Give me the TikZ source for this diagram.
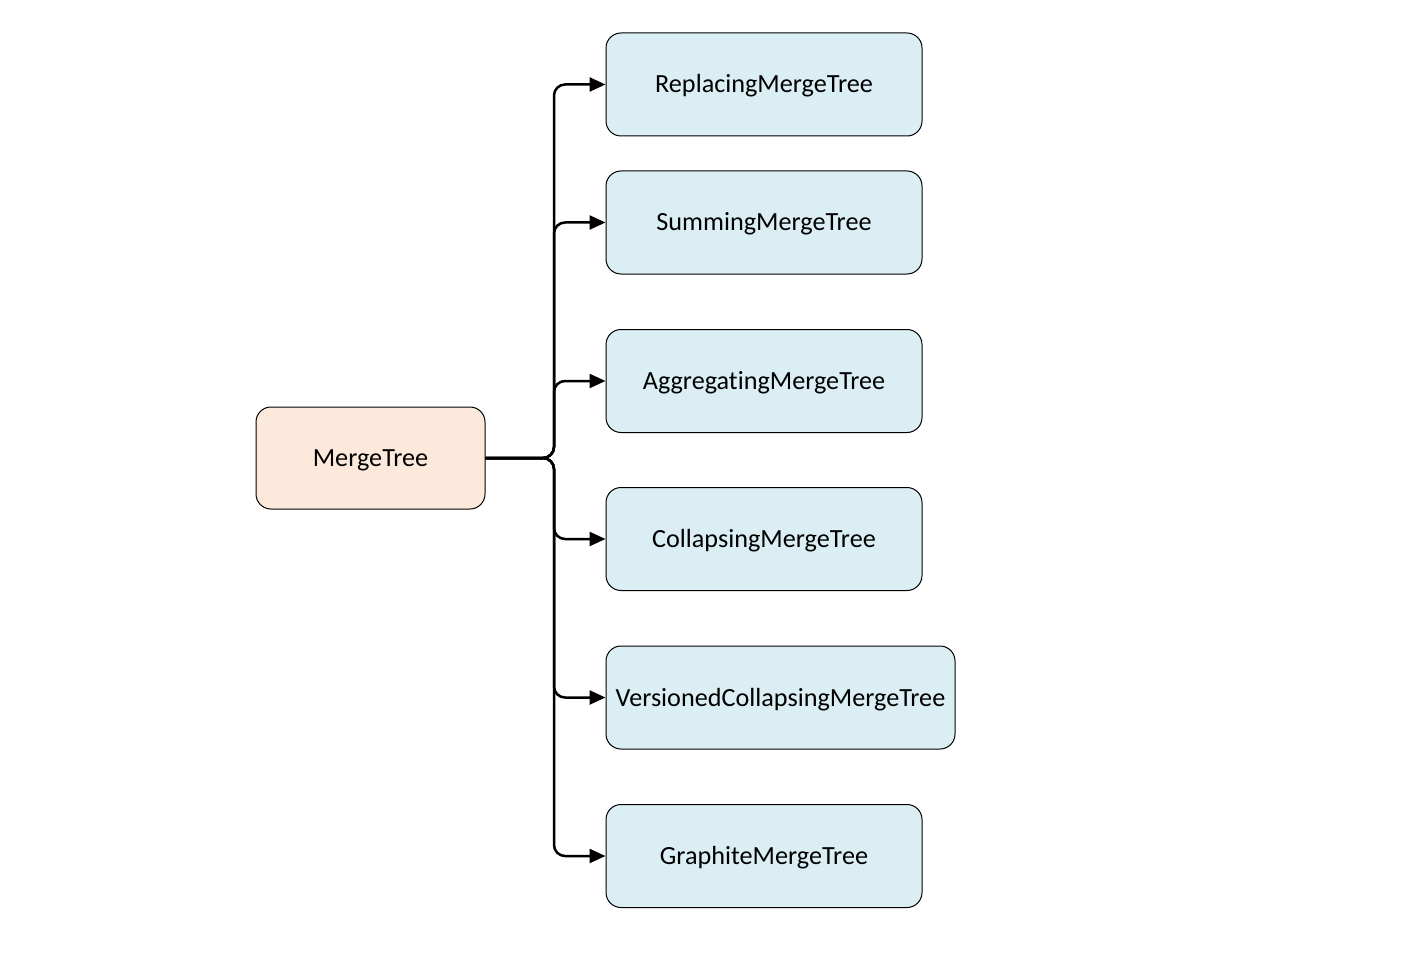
\documentclass[tikz,border=0pt]{standalone}
\usepackage{fontspec}
\setmainfont[Ligatures={NoCommon}]{Carlito}
\usetikzlibrary{arrows.meta}
\definecolor{childfill}{HTML}{DAEEF3}
\definecolor{rootfill}{HTML}{FCE9DB}
\tikzset{
  box/.style={draw=black, line width=1pt, rounded corners=15pt, inner sep=0pt,
    minimum height=103pt, font=\fontsize{26.2}{30}\selectfont, text=black,
    text height=20pt, text depth=3pt},
  child/.style={box, fill=childfill, minimum width=316pt},
  root/.style={box, fill=rootfill, minimum width=229pt, minimum height=102pt},
  conn/.style={draw=black, line width=2.5pt, rounded corners=11pt,
    -{Triangle[length=16pt,width=14pt]}},
}
\begin{document}
\begin{tikzpicture}[x=1pt,y=-1pt]
\useasboundingbox (0,0) rectangle (1404,968);
\node[root] (m) at (370.5,458) {MergeTree};
\node[child] (r) at (764,84.5) {ReplacingMergeTree};
\node[child] (s) at (764,222.5) {SummingMergeTree};
\node[child] (a) at (764,381) {AggregatingMergeTree};
\node[child] (c) at (764,539) {CollapsingMergeTree};
\node[child, minimum width=349pt] (v) at (780.5,697.5) {VersionedCollapsingMergeTree};
\node[child] (g) at (764,856) {GraphiteMergeTree};
\coordinate (j) at (554,458);
\foreach \n in {r,s,a,c,v,g}{
  \draw[conn] (m.east) -- (j) |- (\n.west);
}
\end{tikzpicture}
\end{document}
